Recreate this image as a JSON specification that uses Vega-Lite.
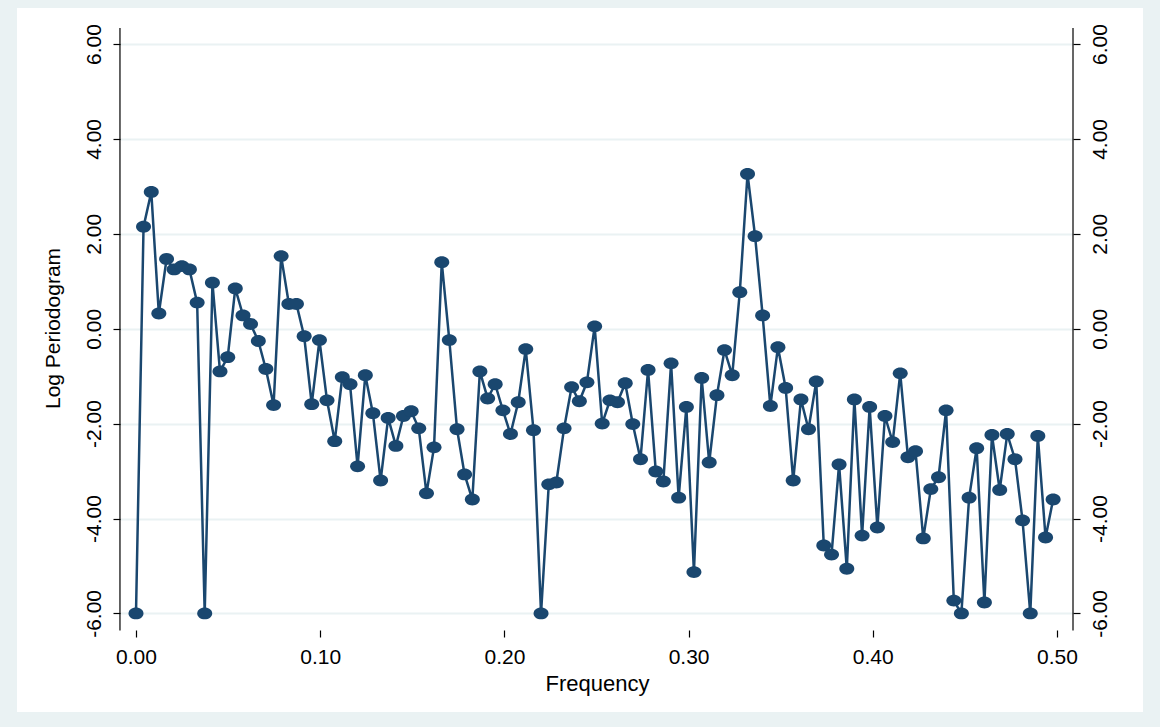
{
  "$schema": "https://vega.github.io/schema/vega-lite/v6.json",
  "autosize": "none",
  "width": 1126,
  "height": 704,
  "padding": {"left": 17, "top": 8, "right": 17, "bottom": 15},
  "background": "#EAF2F3",
  "config": {
    "view": {"fill": "white", "stroke": null},
    "font": "Liberation Sans"
  },
  "encoding": {
    "x": {
      "field": "f", "type": "quantitative",
      "scale": {"domain": [-0.0646, 0.5467], "nice": false, "zero": false},
      "axis": {
        "title": "Frequency", "values": [0, 0.1, 0.2, 0.3, 0.4, 0.5], "format": ".2f",
        "offset": -82, "domain": false,
        "grid": false, "tickColor": "black", "tickWidth": 1.2, "tickSize": 7,
        "labelFontSize": 21, "labelColor": "black", "labelPadding": 9, "labelFlush": false,
        "titleFontSize": 22, "titleFontWeight": "normal", "titleColor": "black", "titlePadding": 6,
        "titleX": 580
      }
    }
  },
  "layer": [
    {
      "layer": [
        {
          "data": {"values": [{"side": "bottom"}]},
          "mark": {"type": "rule", "color": "black", "strokeWidth": 1.2},
          "encoding": {
            "x": {"datum": -0.0087, "type": "quantitative"},
            "x2": {"datum": 0.5087},
            "y": {"datum": -6.36, "type": "quantitative"}
          }
        },
        {
          "data": {"values": [{"side": "left", "xv": -0.0087}, {"side": "right", "xv": 0.5087}]},
          "mark": {"type": "rule", "color": "black", "strokeWidth": 1.2},
          "encoding": {
            "x": {"field": "xv", "type": "quantitative"},
            "y": {"datum": -6.36, "type": "quantitative"},
            "y2": {"datum": 6.34}
          }
        },
        {
          "data": {"name": "pg"},
          "mark": {"type": "line", "color": "#1a476f", "strokeWidth": 2.5},
          "encoding": {
            "y": {
              "field": "lp", "type": "quantitative",
              "scale": {"domain": [-8.078, 6.759], "nice": false, "zero": false},
              "axis": {
                "orient": "left", "title": "Log Periodogram", "values": [-6, -4, -2, 0, 2, 4, 6],
                "labelExpr": "(datum.value < 0 ? '-' : '') + format(abs(datum.value), '.2f')",
                "offset": -103, "domain": false,
                "grid": true, "gridColor": "#EAF2F3", "gridWidth": 2, "gridDash": [0, 103, 953, 300],
                "tickColor": "black", "tickWidth": 1.2, "tickSize": 7,
                "labelAngle": -90, "labelAlign": "center", "labelBaseline": "bottom", "labelPadding": 9,
                "labelFontSize": 21, "labelColor": "black",
                "titleFontSize": 21, "titleFontWeight": "normal", "titleColor": "black", "titlePadding": 20,
                "titleY": 320
              }
            }
          }
        }
      ]
    },
    {
      "data": {"name": "pg"},
      "mark": {"type": "point", "filled": true, "opacity": 1, "color": "#1a476f", "size": 156,
               "shape": "M -1.2 0 A 1.2 0.95 0 1 0 1.2 0 A 1.2 0.95 0 1 0 -1.2 0 Z"},
      "encoding": {
        "y": {
          "field": "lp", "type": "quantitative",
          "scale": {"domain": [-8.078, 6.759], "nice": false, "zero": false},
          "axis": {
            "orient": "right", "title": null, "values": [-6, -4, -2, 0, 2, 4, 6],
            "labelExpr": "(datum.value < 0 ? '-' : '') + format(abs(datum.value), '.2f')",
            "offset": -70, "domain": false, "grid": false,
            "tickColor": "black", "tickWidth": 1.2, "tickSize": 7,
            "labelAngle": -90, "labelAlign": "center", "labelBaseline": "top", "labelPadding": 9,
            "labelFontSize": 21, "labelColor": "black"
          }
        }
      }
    }
  ],
  "resolve": {"scale": {"y": "independent"}, "axis": {"y": "independent"}},
  "datasets": {
    "pg": [
    {"f":0,"lp":-6.00},{"f":0.0041,"lp":2.15},{"f":0.0083,"lp":2.88},{"f":0.0124,"lp":0.32},{"f":0.0166,"lp":1.47},
    {"f":0.0207,"lp":1.25},{"f":0.0249,"lp":1.32},{"f":0.0290,"lp":1.25},{"f":0.0332,"lp":0.55},{"f":0.0373,"lp":-6.00},
    {"f":0.0415,"lp":0.97},{"f":0.0456,"lp":-0.90},{"f":0.0498,"lp":-0.60},{"f":0.0539,"lp":0.85},{"f":0.0581,"lp":0.28},
    {"f":0.0622,"lp":0.10},{"f":0.0664,"lp":-0.26},{"f":0.0705,"lp":-0.85},{"f":0.0747,"lp":-1.61},{"f":0.0788,"lp":1.53},
    {"f":0.0830,"lp":0.52},{"f":0.0871,"lp":0.52},{"f":0.0913,"lp":-0.16},{"f":0.0954,"lp":-1.59},{"f":0.0996,"lp":-0.24},
    {"f":0.1037,"lp":-1.51},{"f":0.1079,"lp":-2.37},{"f":0.1120,"lp":-1.02},{"f":0.1162,"lp":-1.17},{"f":0.1203,"lp":-2.90},
    {"f":0.1245,"lp":-0.98},{"f":0.1286,"lp":-1.78},{"f":0.1328,"lp":-3.20},{"f":0.1369,"lp":-1.88},{"f":0.1411,"lp":-2.47},
    {"f":0.1452,"lp":-1.84},{"f":0.1494,"lp":-1.74},{"f":0.1535,"lp":-2.10},{"f":0.1577,"lp":-3.47},{"f":0.1618,"lp":-2.50},
    {"f":0.1660,"lp":1.40},{"f":0.1701,"lp":-0.24},{"f":0.1743,"lp":-2.12},{"f":0.1784,"lp":-3.07},{"f":0.1826,"lp":-3.60},
    {"f":0.1867,"lp":-0.90},{"f":0.1909,"lp":-1.47},{"f":0.1950,"lp":-1.17},{"f":0.1992,"lp":-1.72},{"f":0.2033,"lp":-2.22},
    {"f":0.2075,"lp":-1.55},{"f":0.2116,"lp":-0.43},{"f":0.2158,"lp":-2.14},{"f":0.2199,"lp":-6.00},{"f":0.2241,"lp":-3.28},
    {"f":0.2282,"lp":-3.24},{"f":0.2324,"lp":-2.10},{"f":0.2365,"lp":-1.23},{"f":0.2407,"lp":-1.53},{"f":0.2448,"lp":-1.13},
    {"f":0.2490,"lp":0.05},{"f":0.2531,"lp":-2.00},{"f":0.2573,"lp":-1.51},{"f":0.2614,"lp":-1.55},{"f":0.2656,"lp":-1.15},
    {"f":0.2697,"lp":-2.01},{"f":0.2739,"lp":-2.75},{"f":0.2780,"lp":-0.87},{"f":0.2822,"lp":-3.01},{"f":0.2863,"lp":-3.22},
    {"f":0.2905,"lp":-0.73},{"f":0.2946,"lp":-3.56},{"f":0.2988,"lp":-1.65},{"f":0.3029,"lp":-5.13},{"f":0.3071,"lp":-1.04},
    {"f":0.3112,"lp":-2.82},{"f":0.3154,"lp":-1.40},{"f":0.3195,"lp":-0.45},{"f":0.3237,"lp":-0.98},{"f":0.3278,"lp":0.77},
    {"f":0.3320,"lp":3.26},{"f":0.3361,"lp":1.95},{"f":0.3402,"lp":0.28},{"f":0.3444,"lp":-1.63},{"f":0.3485,"lp":-0.39},
    {"f":0.3527,"lp":-1.25},{"f":0.3568,"lp":-3.20},{"f":0.3610,"lp":-1.49},{"f":0.3651,"lp":-2.12},{"f":0.3693,"lp":-1.11},
    {"f":0.3734,"lp":-4.57},{"f":0.3776,"lp":-4.76},{"f":0.3817,"lp":-2.86},{"f":0.3859,"lp":-5.06},{"f":0.3900,"lp":-1.49},
    {"f":0.3942,"lp":-4.36},{"f":0.3983,"lp":-1.65},{"f":0.4025,"lp":-4.19},{"f":0.4066,"lp":-1.84},{"f":0.4108,"lp":-2.39},
    {"f":0.4149,"lp":-0.94},{"f":0.4191,"lp":-2.71},{"f":0.4232,"lp":-2.58},{"f":0.4274,"lp":-4.42},{"f":0.4315,"lp":-3.38},
    {"f":0.4357,"lp":-3.13},{"f":0.4398,"lp":-1.72},{"f":0.4440,"lp":-5.73},{"f":0.4481,"lp":-6.00},{"f":0.4523,"lp":-3.56},
    {"f":0.4564,"lp":-2.52},{"f":0.4606,"lp":-5.77},{"f":0.4647,"lp":-2.24},{"f":0.4689,"lp":-3.40},{"f":0.4730,"lp":-2.22},
    {"f":0.4772,"lp":-2.75},{"f":0.4813,"lp":-4.04},{"f":0.4855,"lp":-6.00},{"f":0.4896,"lp":-2.26},{"f":0.4938,"lp":-4.40},
    {"f":0.4979,"lp":-3.60}
    ]
  }
}
